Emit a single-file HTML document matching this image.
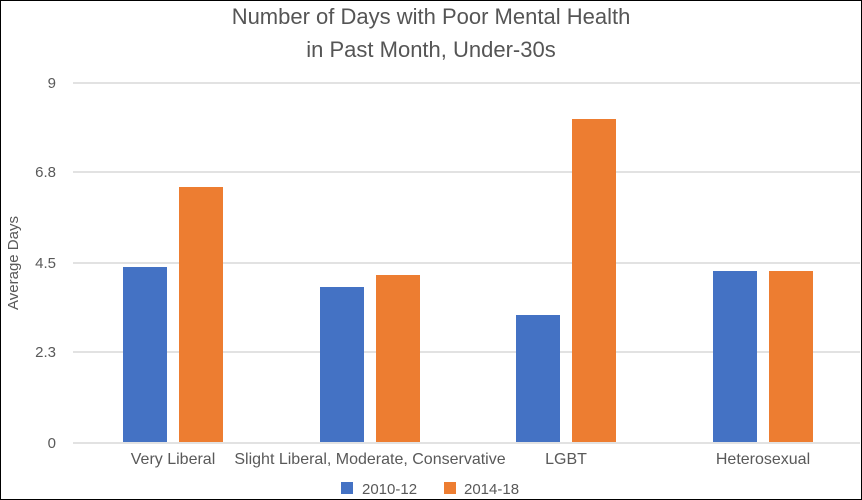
<!DOCTYPE html>
<html><head><style>
body{margin:0;background:#fff}
svg{display:block;font-family:"Liberation Sans",sans-serif}
</style></head><body>
<svg width="862" height="500" viewBox="0 0 862 500">
<rect x="0.5" y="0.5" width="861" height="499" fill="#fff" stroke="#000"/>
<text x="431" y="24" font-size="22" fill="#555" text-anchor="middle">Number of Days with Poor Mental Health</text>
<text x="431" y="57" font-size="22" fill="#555" text-anchor="middle">in Past Month, Under-30s</text>
<g stroke="#d9d9d9" stroke-width="1.5">
<line x1="73" y1="83" x2="860" y2="83"/>
<line x1="73" y1="172" x2="860" y2="172"/>
<line x1="73" y1="263" x2="860" y2="263"/>
<line x1="73" y1="352" x2="860" y2="352"/>
<line x1="73" y1="443" x2="860" y2="443"/>
</g>
<g font-size="15" fill="#595959" text-anchor="end">
<text x="56" y="88">9</text>
<text x="56" y="177">6.8</text>
<text x="56" y="268">4.5</text>
<text x="56" y="357">2.3</text>
<text x="56" y="448">0</text>
</g>
<text transform="translate(18,263) rotate(-90)" font-size="15" fill="#595959" text-anchor="middle">Average Days</text>
<g fill="#4472c4">
<rect x="123" y="267" width="44" height="175"/>
<rect x="320" y="287" width="44" height="155"/>
<rect x="516" y="315" width="44" height="127"/>
<rect x="713" y="271" width="44" height="171"/>
</g>
<g fill="#ed7d31">
<rect x="179" y="187" width="44" height="255"/>
<rect x="376" y="275" width="44" height="167"/>
<rect x="572" y="119" width="44" height="323"/>
<rect x="769" y="271" width="44" height="171"/>
</g>
<g font-size="16" fill="#595959" text-anchor="middle">
<text x="173" y="464">Very Liberal</text>
<text x="370" y="464">Slight Liberal, Moderate, Conservative</text>
<text x="566" y="464">LGBT</text>
<text x="763" y="464">Heterosexual</text>
</g>
<rect x="341" y="482" width="12" height="12" fill="#4472c4"/>
<text x="362" y="494" font-size="15" fill="#595959">2010-12</text>
<rect x="444" y="482" width="12" height="12" fill="#ed7d31"/>
<text x="464" y="494" font-size="15" fill="#595959">2014-18</text>
</svg>
</body></html>
